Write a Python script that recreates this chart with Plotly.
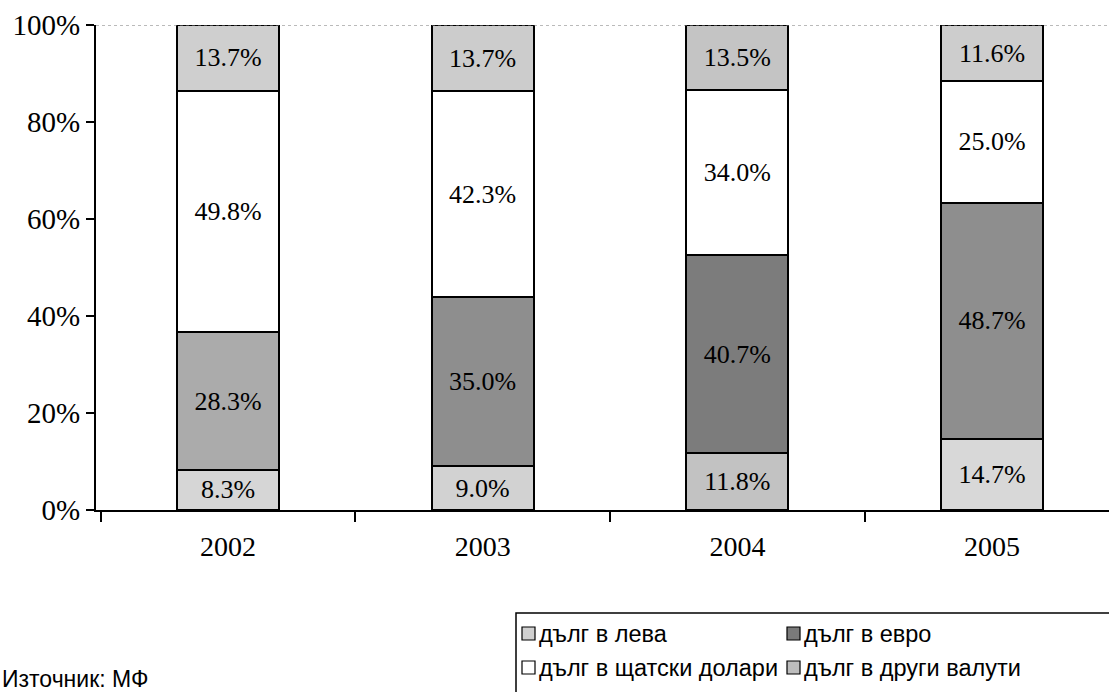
import plotly.graph_objects as go

# Currency structure of government debt, share of total (%)
years = ["2002", "2003", "2004", "2005"]
series_names = ["дълг в лева", "дълг в евро", "дълг в щатски долари", "дълг в други валути"]
debt_bgn = [8.3, 9.0, 11.8, 14.7]
debt_eur = [28.3, 35.0, 40.7, 48.7]
debt_usd = [49.8, 42.3, 34.0, 25.0]
debt_other = [13.7, 13.7, 13.5, 11.6]
y_ticks = [0, 20, 40, 60, 80, 100]
source_text = "Източник: МФ"

W, H = 1109, 692
ML, MR, MT, MB = 96, 0, 25, 182
PW, PH = W - ML - MR, H - MT - MB
CAT_STEP = 254.7  # pixel spacing between year categories

def px_x(px):
    return (px - ML) / PW

def px_y(py):
    return (H - MB - py) / PH

serif = "Liberation Serif"
sans = "Liberation Sans"

fills = {
    "bgn": ["#d6d6d6", "#d2d2d2", "#c2c2c2", "#d8d8d8"],
    "eur": ["#ababab", "#8e8e8e", "#7c7c7c", "#8e8e8e"],
    "usd": ["#ffffff"] * 4,
    "other": ["#cfcfcf", "#cccccc", "#c4c4c4", "#cdcdcd"],
}

fig = go.Figure()
for name, vals, key in zip(series_names, [debt_bgn, debt_eur, debt_usd, debt_other],
                           ["bgn", "eur", "usd", "other"]):
    fig.add_trace(go.Bar(
        x=years, y=vals, name=name,
        marker=dict(color=fills[key], line=dict(color="black", width=2)),
        text=[f"{v:.1f}%" for v in vals],
        textposition="inside", insidetextanchor="middle",
        textangle=0, constraintext="none",
        textfont=dict(family=serif, size=26, color="black"),
        width=0.4, showlegend=False,
    ))

# 100% reference line across the top of the plot
fig.add_shape(type="line", xref="paper", yref="y", x0=0, x1=1, y0=100, y1=100,
              line=dict(color="#777777", width=1, dash="dot"))

# Legend box drawn in two columns
fig.add_shape(type="rect", xref="paper", yref="paper",
              x0=px_x(516), x1=px_x(1125), y0=px_y(613), y1=px_y(705),
              line=dict(color="black", width=1.5), fillcolor="rgba(0,0,0,0)")
legend_pos = [(522, 634), (787, 634), (522, 668), (787, 668)]
legend_fill = ["#d0d0d0", "#7a7a7a", "#ffffff", "#bdbdbd"]
for (lx, ly), nm, col in zip(legend_pos, series_names, legend_fill):
    fig.add_shape(type="rect", xref="paper", yref="paper",
                  x0=px_x(lx), x1=px_x(lx + 13), y0=px_y(ly - 7), y1=px_y(ly + 6),
                  line=dict(color="black", width=1.2), fillcolor=col)
    fig.add_annotation(xref="paper", yref="paper", x=px_x(lx + 15), y=px_y(ly),
                       xanchor="left", yanchor="middle", showarrow=False,
                       text=nm, font=dict(family=sans, size=23.5, color="black"))

fig.add_annotation(xref="paper", yref="paper", x=px_x(0), y=px_y(694),
                   xanchor="left", yanchor="bottom", showarrow=False,
                   text=source_text, font=dict(family=sans, size=23, color="black"))

x_start = -132 / CAT_STEP  # first category centre sits 132 px right of the axis

fig.update_layout(
    width=W, height=H,
    margin=dict(l=ML, r=MR, t=MT, b=MB, autoexpand=False),
    barmode="stack",
    paper_bgcolor="white", plot_bgcolor="white",
    showlegend=False,
    xaxis=dict(
        range=[x_start, x_start + PW / CAT_STEP],
        automargin=False,
        showline=True, linecolor="black", linewidth=2,
        ticks="outside", tickson="boundaries", ticklen=10, tickwidth=2, tickcolor="black",
        tickfont=dict(family=serif, size=28, color="black"),
        ticklabelstandoff=10,
        showgrid=False, zeroline=False,
    ),
    yaxis=dict(
        range=[0, 100],
        automargin=False,
        tickvals=y_ticks, ticktext=[f"{v}%" for v in y_ticks],
        showline=True, linecolor="black", linewidth=2,
        ticks="outside", ticklen=8, tickwidth=2, tickcolor="black",
        tickfont=dict(family=serif, size=29, color="black"),
        showgrid=False, zeroline=False,
    ),
)

fig.write_html("out.html")
